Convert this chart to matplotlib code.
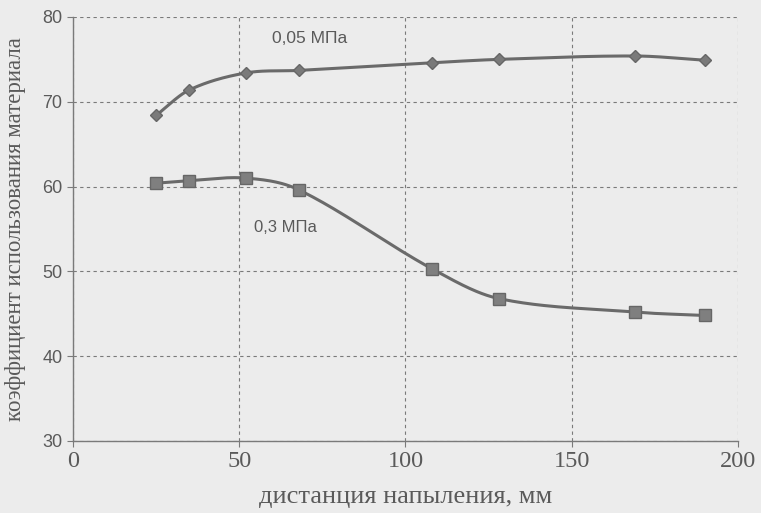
import numpy as np
import matplotlib
matplotlib.use("Agg")
import matplotlib.pyplot as plt

# Data
distance = [25, 35, 52, 68, 108, 128, 169, 190]
p005 = [68.4, 71.4, 73.4, 73.7, 74.6, 75.0, 75.4, 74.9]
p03 = [60.4, 60.7, 61.0, 59.6, 50.3, 46.8, 45.2, 44.8]
xticks = [0, 50, 100, 150, 200]
yticks = [30, 40, 50, 60, 70, 80]
label_005 = "0,05 МПа"
label_03 = "0,3 МПа"


def smooth(xs, ys, n=40):
    """Cubic Hermite smoothing through the points (smoothed line rendering)."""
    xs = np.asarray(xs, float)
    ys = np.asarray(ys, float)
    m = np.zeros_like(ys)
    m[1:-1] = (ys[2:] - ys[:-2]) / (xs[2:] - xs[:-2])
    m[0] = (ys[1] - ys[0]) / (xs[1] - xs[0])
    m[-1] = (ys[-1] - ys[-2]) / (xs[-1] - xs[-2])
    outx, outy = [], []
    for i in range(len(xs) - 1):
        h = xs[i + 1] - xs[i]
        t = np.linspace(0, 1, n)
        h00 = 2 * t ** 3 - 3 * t ** 2 + 1
        h10 = t ** 3 - 2 * t ** 2 + t
        h01 = -2 * t ** 3 + 3 * t ** 2
        h11 = t ** 3 - t ** 2
        outx.extend(xs[i] + t * h)
        outy.extend(h00 * ys[i] + h10 * h * m[i] + h01 * ys[i + 1] + h11 * h * m[i + 1])
    return np.array(outx), np.array(outy)


bg = "#ececec"
linec = "#6a6a6a"
textc = "#5a5a5a"
gridc = "#7a7a7a"

fig = plt.figure(figsize=(7.61, 5.13), dpi=100, facecolor=bg)
ax = fig.add_axes([0.0959, 0.1404, 0.8739, 0.8265], facecolor=bg)

ax.set_xlim(0, 200)
ax.set_ylim(30, 80)
ax.set_xticks(xticks)
ax.set_yticks(yticks)

ax.grid(True, color=gridc, linestyle=(0, (3, 3)), linewidth=0.8)
for s in ["top", "right"]:
    ax.spines[s].set_visible(False)
for s in ["left", "bottom"]:
    ax.spines[s].set_color(gridc)
    ax.spines[s].set_linewidth(1.0)

ax.tick_params(axis="both", colors=gridc, length=4, width=0.8)
for lbl in ax.get_yticklabels():
    lbl.set_family("Liberation Sans")
    lbl.set_fontsize(13)
    lbl.set_color(textc)
for lbl in ax.get_xticklabels():
    lbl.set_family("Liberation Serif")
    lbl.set_fontsize(17.5)
    lbl.set_color(textc)

sx, sy = smooth(distance, p005)
ax.plot(sx, sy, color=linec, linewidth=2.2, zorder=3)
ax.plot(distance, p005, linestyle="none", marker="D", markersize=6,
        color="#7a7a7a", markeredgecolor="#666666", zorder=4)

sx, sy = smooth(distance, p03)
ax.plot(sx, sy, color=linec, linewidth=2.2, zorder=3)
ax.plot(distance, p03, linestyle="none", marker="s", markersize=8,
        color="#7f7f7f", markeredgecolor="#666666", zorder=4)

ax.text(60, 77.5, label_005, family="Liberation Sans", fontsize=12.5,
        color=textc, ha="left", va="center")
ax.text(54.5, 55.2, label_03, family="Liberation Sans", fontsize=12,
        color=textc, ha="left", va="center")

ax.set_xlabel("дистанция напыления, мм", family="Liberation Serif",
              fontsize=19, color=textc, labelpad=10)
ax.set_ylabel("коэффициент использования материала", family="Liberation Serif",
              fontsize=16.5, color=textc, labelpad=12)

fig.savefig("out.png", dpi=100, facecolor=bg)
